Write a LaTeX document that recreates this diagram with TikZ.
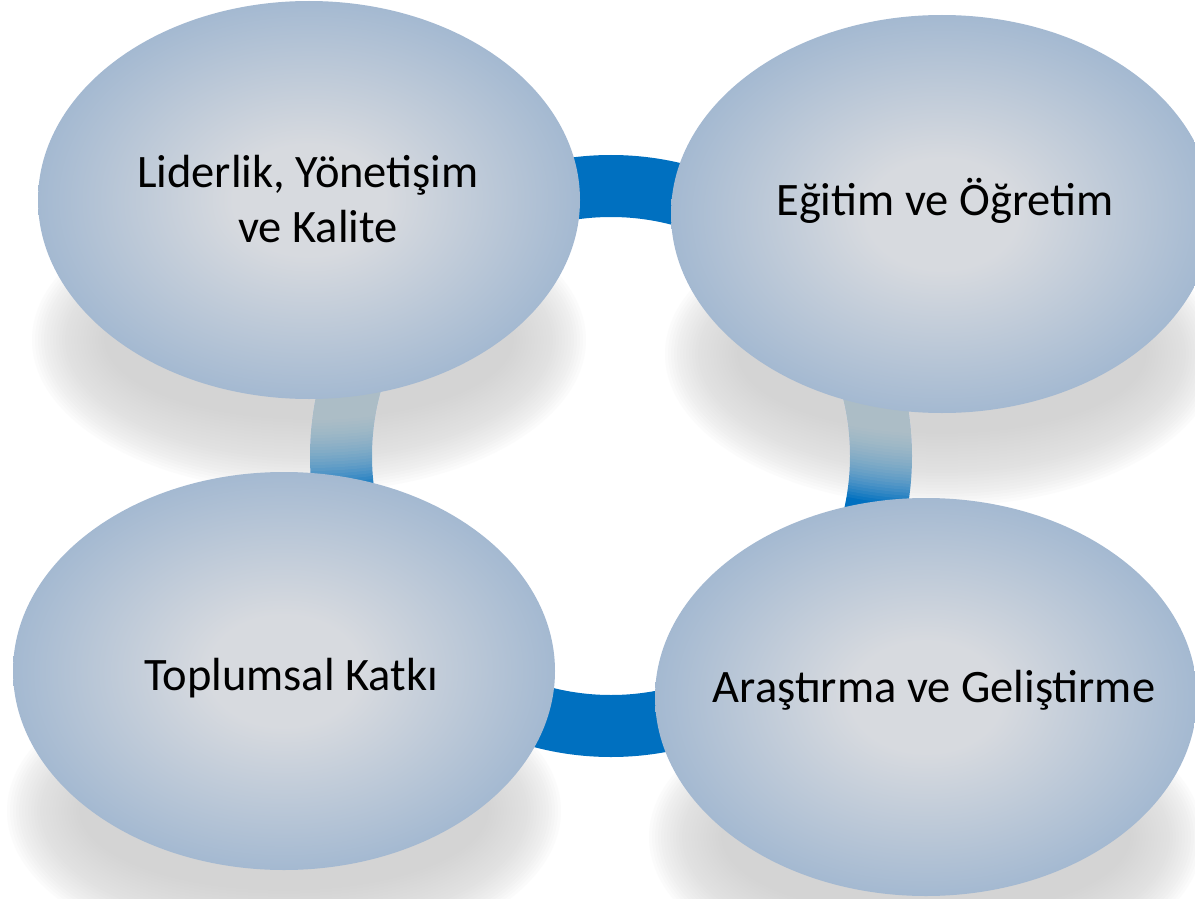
\documentclass[tikz,border=0pt]{standalone}
\usepackage{fontspec}
\setmainfont{Carlito}
\usetikzlibrary{shapes.geometric}
\definecolor{ringblue}{HTML}{0070C0}
\definecolor{blobin}{HTML}{D7DADF}
\definecolor{blobout}{HTML}{A4B9D1}
\definecolor{shadowgray}{HTML}{D4D4D4}
\pgfdeclareradialshading{blobshade}{\pgfpoint{0bp}{0bp}}{%
  color(0bp)=(blobin); color(7bp)=(blobin); color(25bp)=(blobout); color(50bp)=(blobout)}
\tikzset{
  blob/.style={ellipse, minimum width=542pt, minimum height=398pt, inner sep=0pt,
    shading=blobshade},
  lbl/.style={font=\fontsize{46.5}{55}\selectfont, align=center, text=black},
}
\begin{document}
\begin{tikzpicture}[x=1pt,y=-1pt]
  \useasboundingbox[fill=white] (0,0) rectangle (1195,899);
  % ring behind the four areas
  \coordinate (hub) at (611,456);
  \draw[ringblue, line width=62pt] (hub) circle (270);
  % soft shadows under the areas
  \foreach \cx/\cy in {309/200, 942/214, 284/671, 926/697}
    \foreach \k in {0,...,24}
      \fill[shadowgray, opacity=0.07] (\cx,\cy+140) ellipse ({205+3*\k} and {80+3*\k});
  % the four areas
  \node[blob] (lider) at (309,200) {};
  \node[blob] (egitim) at (942,214) {};
  \node[blob] (toplum) at (284,671) {};
  \node[blob] (arge) at (926,697) {};
  \node[lbl] (lider-t) at (308,199) {Liderlik, Yönetişim\\\hspace*{20pt}ve Kalite};
  \node[lbl, anchor=base] (egitim-t) at (945,215) {Eğitim ve Öğretim};
  \node[lbl, anchor=base] (toplum-t) at (291,690) {Toplumsal Katkı};
  \node[lbl, anchor=base] (arge-t) at (934,702) {Araştırma ve Geliştirme};
\end{tikzpicture}
\end{document}
